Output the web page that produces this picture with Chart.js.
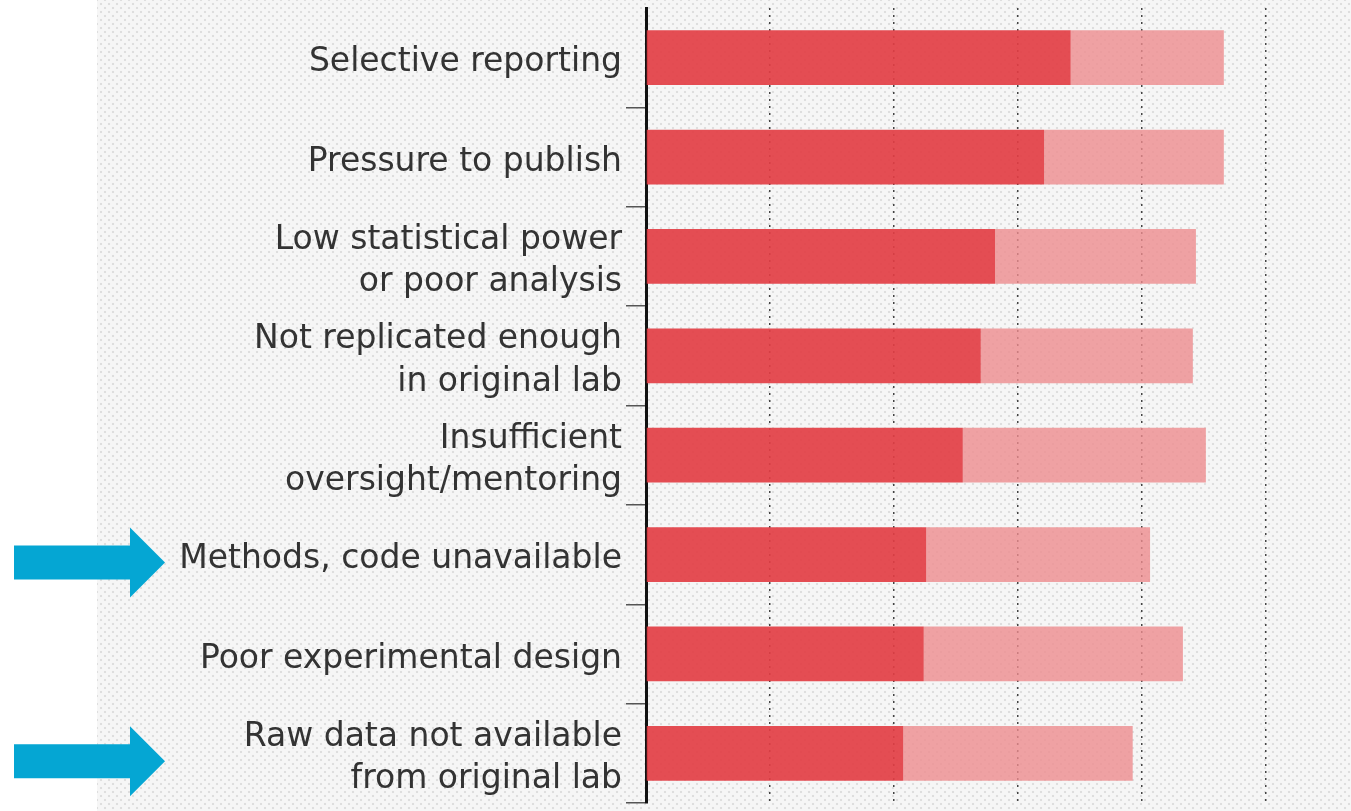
<!DOCTYPE html>
<html>
<head>
<meta charset="utf-8">
<script src="https://cdn.jsdelivr.net/npm/chart.js@4/dist/chart.umd.min.js"></script>
<style>
  html, body { margin: 0; padding: 0; background: #fff; }
  .pozadina {
    position: absolute; left: 97px; top: 0; width: 1254px; height: 811px;
    background-color: #f6f6f6;
    background-image:
      radial-gradient(#dedede 1px, transparent 1.6px),
      radial-gradient(#dedede 1px, transparent 1.6px);
    background-size: 8px 8px;
    background-position: 0 0, 4px 4px;
  }
  .okvir { position: absolute; left: 0; top: 0; width: 1351px; height: 811px; }
</style>
</head>
<body>
<div class="pozadina"></div>
<div class="okvir"><canvas id="grafik" width="1351" height="811"></canvas></div>
<script>
// kategorije i vrednosti (procenti)
const kategorije = [
  "Selective reporting",
  "Pressure to publish",
  ["Low statistical power", "or poor analysis"],
  ["Not replicated enough", "in original lab"],
  ["Insufficient", "oversight/mentoring"],
  "Methods, code unavailable",
  "Poor experimental design",
  ["Raw data not available", "from original lab"]
];
const cestoDoprinosi = [68.5, 64.2, 56.3, 54.0, 51.1, 45.2, 44.8, 41.5];
const ponekadDoprinosi = [24.7, 29.0, 32.4, 34.2, 39.2, 36.1, 41.8, 37.0];
const strelice = [5, 7]; // indeksi kategorija sa strelicom

// strelice levo od naziva
const crtajStrelice = {
  id: "strelice",
  afterDraw(chart) {
    const ctx = chart.ctx;
    const y = chart.scales.y;
    ctx.save();
    ctx.fillStyle = "#05a6d3";
    strelice.forEach(i => {
      let cy = y.getPixelForValue(i) + 8;
      ctx.beginPath();
      ctx.moveTo(14, cy - 17);
      ctx.lineTo(130, cy - 17);
      ctx.lineTo(130, cy - 35);
      ctx.lineTo(165, cy);
      ctx.lineTo(130, cy + 35);
      ctx.lineTo(130, cy + 17);
      ctx.lineTo(14, cy + 17);
      ctx.closePath();
      ctx.fill();
    });
    ctx.restore();
  }
};

new Chart(document.getElementById("grafik"), {
  type: "bar",
  data: {
    labels: kategorije,
    datasets: [
      {
        label: "Often contributes",
        data: cestoDoprinosi,
        backgroundColor: "rgba(226, 62, 68, 0.92)",
        barPercentage: 0.55,
        categoryPercentage: 1
      },
      {
        label: "Sometimes contributes",
        data: ponekadDoprinosi,
        backgroundColor: "rgba(238, 140, 143, 0.8)",
        barPercentage: 0.55,
        categoryPercentage: 1
      }
    ]
  },
  options: {
    indexAxis: "y",
    responsive: false,
    animation: false,
    layout: { padding: { top: 8, bottom: 8, right: 85, left: 0 } },
    plugins: {
      legend: { display: false },
      tooltip: { enabled: false }
    },
    scales: {
      x: {
        stacked: true,
        min: 0,
        max: 100,
        ticks: { display: false, stepSize: 20 },
        border: { display: false, dash: [2, 5] },
        grid: {
          color: "#444",
          lineWidth: 1.5,
          drawTicks: false
        },
        afterFit: s => { s.height = 0; s.paddingLeft = 0; s.paddingRight = 0; }
      },
      y: {
        stacked: true,
        border: { display: true, color: "#111", width: 3 },
        grid: {
          drawOnChartArea: false,
          tickLength: 20,
          color: c => c.index === 0 ? "rgba(0,0,0,0)" : "#555",
          lineWidth: 1.5
        },
        ticks: {
          color: "#333",
          padding: 4,
          labelOffset: 5,
          font: { family: "'DejaVu Sans', sans-serif", size: 33, lineHeight: 1.28 }
        },
        afterFit: s => { s.width = 646; s.paddingTop = 0; s.paddingBottom = 0; }
      }
    }
  },
  plugins: [crtajStrelice]
});
</script>
</body>
</html>
